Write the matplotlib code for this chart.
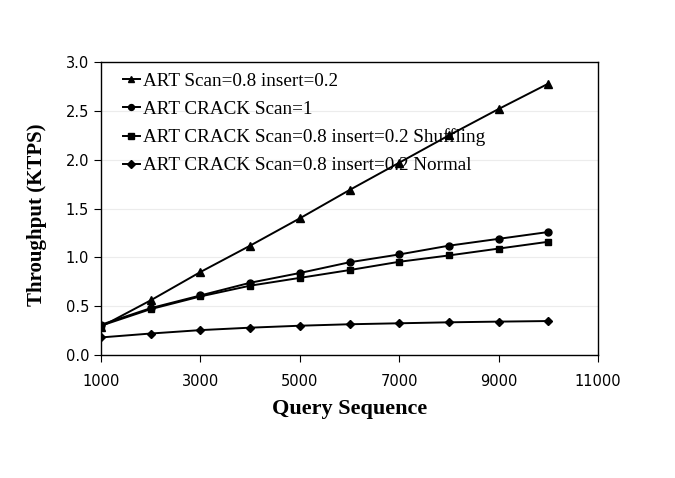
import numpy as np
import matplotlib
matplotlib.use("Agg")
import matplotlib.pyplot as plt

queries = [1000, 2000, 3000, 4000, 5000, 6000, 7000, 8000, 9000, 10000]
art_scan = [0.29, 0.56, 0.85, 1.12, 1.40, 1.69, 1.97, 2.25, 2.52, 2.78]
crack_scan1 = [0.31, 0.48, 0.61, 0.74, 0.84, 0.95, 1.03, 1.12, 1.19, 1.26]
crack_shuffle = [0.30, 0.47, 0.60, 0.71, 0.79, 0.87, 0.955, 1.02, 1.09, 1.16]
crack_normal = [0.18, 0.22, 0.255, 0.28, 0.30, 0.315, 0.325, 0.335, 0.342, 0.348]
labels = ["ART Scan=0.8 insert=0.2",
          "ART CRACK Scan=1",
          "ART CRACK Scan=0.8 insert=0.2 Shuffling",
          "ART CRACK Scan=0.8 insert=0.2 Normal"]

fig = plt.figure(figsize=(6.75, 4.78), dpi=100)
ax = fig.add_axes([0.1496, 0.2573, 0.7364, 0.6127])

series = [art_scan, crack_scan1, crack_shuffle, crack_normal]
markers = ['^', 'o', 's', 'D']
msizes = [5.5, 5, 5, 4.5]
for ys, m, ms, lab in zip(series, markers, msizes, labels):
    ax.plot(queries, ys, color='black', lw=1.4, marker=m, ms=ms, label=lab)

ax.set_xlim(1000, 11000)
ax.set_ylim(0, 3.0)
ax.set_xticks(np.arange(1000, 11001, 2000))
ax.set_yticks(np.arange(0, 3.01, 0.5))
ax.yaxis.set_major_formatter(plt.FuncFormatter('{:.1f}'.format))
ax.grid(axis='y', color='#ececec', lw=0.8)
ax.set_axisbelow(True)
for s in ax.spines.values():
    s.set_color('black')
    s.set_linewidth(1.0)
ax.tick_params(labelsize=10.5, length=5, color='black', direction='out')
ax.tick_params(axis='x', pad=8.5)

serif = 'Liberation Serif'
ax.set_xlabel('Query Sequence', fontsize=16, fontweight='bold', family=serif)
ax.set_ylabel('Throughput (KTPS)', fontsize=15, fontweight='bold', family=serif)
ax.xaxis.set_label_coords(0.5, -0.15)
ax.yaxis.set_label_coords(-0.109, 0.48)

ax.legend(loc='upper left', frameon=False, prop={'family': serif, 'size': 13.8},
          handlelength=0.9, handletextpad=0.15, labelspacing=0.56,
          borderpad=0, borderaxespad=0, bbox_to_anchor=(0.044, 0.966),
          markerscale=0.85)

fig.savefig('out.png', dpi=100)
